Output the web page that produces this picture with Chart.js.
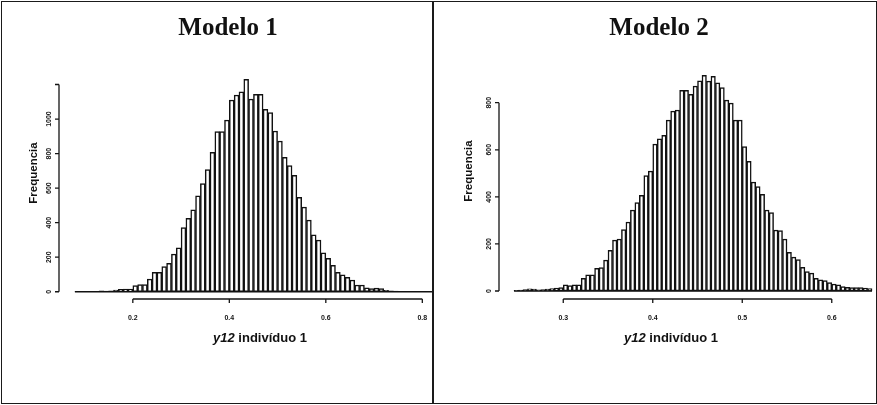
<!DOCTYPE html>
<html>
<head>
<meta charset="utf-8">
<script src="https://cdn.jsdelivr.net/npm/chart.js@4/dist/chart.umd.min.js"></script>
<style>
  html, body { margin: 0; padding: 0; background: #fff; }
  #wrap { position: relative; width: 877px; height: 405px; overflow: hidden; background: #fff; }
  canvas { position: absolute; top: 0; }
  .frame { position: absolute; border: 1.5px solid #1a1a1a; box-sizing: border-box; }
  .vline { position: absolute; background: #1a1a1a; }
  .title { position: absolute; width: 240px; text-align: center; font: bold 25px "Liberation Serif", "Times New Roman", serif; color: #111; line-height: 24px; }
  .ylab { position: absolute; width: 120px; text-align: center; font: bold 11.5px "Liberation Sans", Arial, sans-serif; color: #111; transform: rotate(-90deg); line-height: 12px; }
  .xlab { position: absolute; width: 200px; text-align: center; font: bold 13px "Liberation Sans", Arial, sans-serif; color: #111; line-height: 14px; }
</style>
</head>
<body>
<div id="wrap">
  <canvas id="c1" width="433" height="405" style="left:0"></canvas>
  <canvas id="c2" width="444" height="405" style="left:433px"></canvas>
  <div class="frame" style="left:1px;top:1px;width:876px;height:403px"></div>
  <div class="vline" style="left:432px;top:1px;width:1.5px;height:403px"></div>
  <div class="title" style="left:108px;top:15px">Modelo 1</div>
  <div class="title" style="left:539px;top:15px">Modelo 2</div>
  <div class="ylab" style="left:-27px;top:167px">Frequencia</div>
  <div class="ylab" style="left:408px;top:165px">Frequencia</div>
  <div class="xlab" style="left:160px;top:331px"><i>y12</i> indivíduo 1</div>
  <div class="xlab" style="left:571px;top:331px"><i>y12</i> indivíduo 1</div>
</div>
<script>
// ---- Modelo 1: bin lower edges (width 0.01) and counts ----
const m1Bins = [0.08,0.09,0.10,0.11,0.12,0.13,0.14,0.15,0.16,0.17,0.18,0.19,
  0.20,0.21,0.22,0.23,0.24,0.25,0.26,0.27,0.28,0.29,
  0.30,0.31,0.32,0.33,0.34,0.35,0.36,0.37,0.38,0.39,
  0.40,0.41,0.42,0.43,0.44,0.45,0.46,0.47,0.48,0.49,
  0.50,0.51,0.52,0.53,0.54,0.55,0.56,0.57,0.58,0.59,
  0.60,0.61,0.62,0.63,0.64,0.65,0.66,0.67,0.68,0.69,
  0.70,0.71,0.72,0.73,0.74,0.75,0.76,0.77,0.78,0.79,0.80,0.81];
const m1Counts = [1,1,2,2,3,6,4,5,9,14,15,16,
  35,42,42,73,112,112,145,164,218,255,
  371,425,475,556,627,708,807,927,927,994,
  1110,1139,1158,1230,1116,1143,1143,1056,1037,931,
  873,778,730,674,546,490,415,330,299,226,
  193,153,112,98,83,68,39,39,23,19,
  21,19,8,5,4,3,3,2,2,2,1,1];
const m1BinWidth = 0.01;
const m1XTicks = [0.2, 0.4, 0.6, 0.8];
const m1XLabels = ["0.2", "0.4", "0.6", "0.8"];
const m1YTicks = [0, 200, 400, 600, 800, 1000, 1200];
const m1YLabels = ["0", "200", "400", "600", "800", "1000", ""];

// ---- Modelo 2: bin lower edges (width 0.005) and counts ----
const m2Bins = [0.245,0.250,0.255,0.260,0.265,0.270,0.275,0.280,0.285,0.290,0.295,
  0.300,0.305,0.310,0.315,0.320,0.325,0.330,0.335,0.340,0.345,
  0.350,0.355,0.360,0.365,0.370,0.375,0.380,0.385,0.390,0.395,
  0.400,0.405,0.410,0.415,0.420,0.425,0.430,0.435,0.440,0.445,
  0.450,0.455,0.460,0.465,0.470,0.475,0.480,0.485,0.490,0.495,
  0.500,0.505,0.510,0.515,0.520,0.525,0.530,0.535,0.540,0.545,
  0.550,0.555,0.560,0.565,0.570,0.575,0.580,0.585,0.590,0.595,
  0.600,0.605,0.610,0.615,0.620,0.625,0.630,0.635,0.640];
const m2Counts = [3,4,6,9,8,5,6,8,10,12,14,
  26,23,26,26,54,69,69,96,100,131,
  173,216,221,261,293,344,376,407,490,509,
  624,647,661,726,764,769,853,853,836,871,
  893,916,892,912,885,864,811,798,726,726,
  614,551,463,444,411,344,333,259,257,221,
  164,144,133,101,83,76,54,47,44,36,
  29,26,19,16,15,14,14,12,10];
const m2BinWidth = 0.005;
const m2XTicks = [0.3, 0.4, 0.5, 0.6];
const m2XLabels = ["0.3", "0.4", "0.5", "0.6"];
const m2YTicks = [0, 200, 400, 600, 800];
const m2YLabels = ["0", "200", "400", "600", "800"];

// Histogram baseline (bottom edge of all bins) drawn through the scales
const histBase = {
  id: 'histBase',
  afterDatasetsDraw(chart, args, o) {
    const { ctx, scales: { x, y } } = chart;
    const p0 = y.getPixelForValue(0);
    ctx.save();
    ctx.strokeStyle = '#111';
    ctx.lineWidth = 1.6;
    ctx.beginPath();
    ctx.moveTo(x.getPixelForValue(o.from), p0);
    ctx.lineTo(x.getPixelForValue(o.to), p0);
    ctx.stroke();
    ctx.restore();
  }
};

// R-style axes drawn through the chart's own scales
const rAxes = {
  id: 'rAxes',
  afterDraw(chart, args, o) {
    const { ctx, chartArea, scales } = chart;
    const x = scales.x, y = scales.y;
    ctx.save();
    ctx.strokeStyle = '#151515';
    ctx.fillStyle = '#151515';
    ctx.lineWidth = 1.3;
    const ax = chartArea.left;
    ctx.beginPath();
    ctx.moveTo(ax, y.getPixelForValue(o.yTicks[0]));
    ctx.lineTo(ax, y.getPixelForValue(o.yTicks[o.yTicks.length - 1]));
    o.yTicks.forEach(v => {
      const p = y.getPixelForValue(v);
      ctx.moveTo(ax, p); ctx.lineTo(ax - 4, p);
    });
    const ay = chartArea.bottom;
    ctx.moveTo(x.getPixelForValue(o.xTicks[0]), ay);
    ctx.lineTo(x.getPixelForValue(o.xTicks[o.xTicks.length - 1]), ay);
    o.xTicks.forEach(v => {
      const p = x.getPixelForValue(v);
      ctx.moveTo(p, ay); ctx.lineTo(p, ay + 4);
    });
    ctx.stroke();
    ctx.font = 'bold 7px "Liberation Sans", Arial, sans-serif';
    ctx.textAlign = 'center';
    ctx.textBaseline = 'middle';
    o.yTicks.forEach((v, i) => {
      const lbl = o.yLabels[i];
      if (!lbl) return;
      ctx.save();
      ctx.translate(ax - 10, y.getPixelForValue(v));
      ctx.rotate(-Math.PI / 2);
      ctx.fillText(lbl, 0, 0);
      ctx.restore();
    });
    o.xTicks.forEach((v, i) => {
      ctx.fillText(o.xLabels[i], x.getPixelForValue(v), ay + 19);
    });
    ctx.restore();
  }
};

function makeHist(id, bins, counts, width, xr, yr, pad, axes) {
  const data = bins.map((b, i) => ({ x: b + width / 2, y: counts[i] }));
  return new Chart(document.getElementById(id), {
    type: 'bar',
    data: { datasets: [{
      data,
      backgroundColor: '#ffffff',
      borderColor: '#111111',
      borderWidth: 1.5,
      borderSkipped: false,
      barPercentage: 1,
      categoryPercentage: 1
    }] },
    options: {
      responsive: false,
      animation: false,
      layout: { padding: pad },
      plugins: {
        legend: { display: false },
        tooltip: { enabled: false },
        rAxes: axes,
        histBase: { from: bins[0], to: bins[bins.length - 1] + width }
      },
      scales: {
        x: { type: 'linear', display: false, offset: false, min: xr[0], max: xr[1] },
        y: { display: false, min: yr[0], max: yr[1] }
      }
    },
    plugins: [histBase, rAxes]
  });
}

makeHist('c1', m1Bins, m1Counts, m1BinWidth, [0.047, 0.818], [-42, 1255],
  { left: 59, right: 2, top: 75, bottom: 106 },
  { xTicks: m1XTicks, xLabels: m1XLabels, yTicks: m1YTicks, yLabels: m1YLabels });

makeHist('c2', m2Bins, m2Counts, m2BinWidth, [0.2282, 0.6472], [-34, 939],
  { left: 66, right: 3, top: 70, bottom: 106 },
  { xTicks: m2XTicks, xLabels: m2XLabels, yTicks: m2YTicks, yLabels: m2YLabels });
</script>
</body>
</html>
